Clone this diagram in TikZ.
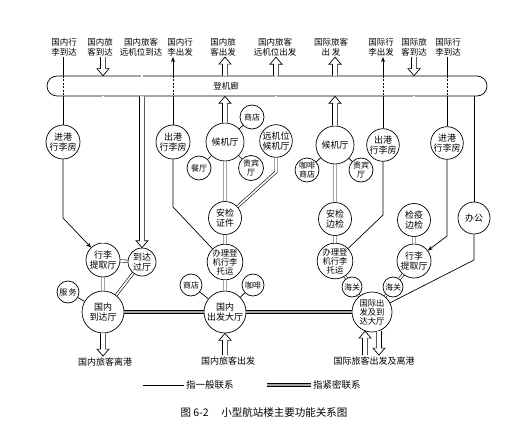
\documentclass[tikz,border=0pt]{standalone}
\usepackage{fontspec}
\setmainfont{Noto Sans CJK SC}
\usetikzlibrary{arrows.meta,calc}
\tikzset{
 bub/.style={circle,draw,line width=0.7pt,inner sep=0pt,minimum size=#1,align=center,fill=white,font=\fontsize{9}{10}\selectfont},
 sbub/.style={bub=#1,font=\fontsize{8}{9}\selectfont},
 tbub/.style={bub=#1,font=\fontsize{8.3}{9}\selectfont},
 lbl/.style={align=center,inner sep=1pt,font=\fontsize{8.5}{10}\selectfont},
 blbl/.style={inner sep=1.5pt,font=\fontsize{9}{10}\selectfont},
 gen/.style={line width=0.7pt},
 tight/.style={double,double distance=1.7pt,line width=0.6pt},
 heavy/.style={double=gray!70,double distance=2pt,line width=0.8pt},
 harrow/.style={draw,fill=white,line width=0.7pt,line join=miter},
 ar/.style={-{Stealth[length=5pt,width=4pt]}},
 dsh/.style={dash pattern=on 2pt off 1.5pt},
}
\newcommand{\harrowup}[2]{\draw[harrow] let \p1=(#1), \p2=(#2) in (\x1-2.6pt,\y1) -- (\x1-2.6pt,\y2-7pt) -- (\x1-6pt,\y2-7pt) -- (\x1,\y2) -- (\x1+6pt,\y2-7pt) -- (\x1+2.6pt,\y2-7pt) -- (\x1+2.6pt,\y1);}
\newcommand{\harrowdn}[2]{\draw[harrow] let \p1=(#1), \p2=(#2) in (\x1-2.6pt,\y1) -- (\x1-2.6pt,\y2+7pt) -- (\x1-6pt,\y2+7pt) -- (\x1,\y2) -- (\x1+6pt,\y2+7pt) -- (\x1+2.6pt,\y2+7pt) -- (\x1+2.6pt,\y1);}
\begin{document}
\begin{tikzpicture}[x=1pt,y=-1pt]
\useasboundingbox[fill=white] (0,0) rectangle (524,425);
% corridor
\node[draw,line width=0.7pt,fill=white,minimum width=440pt,minimum height=20pt,rounded corners=10pt,inner sep=0pt] (corr) at (267,86) {};
\node[font=\fontsize{8.5}{10}\selectfont] (corrl) at (226,86) {登机廊};
% top labels
\node[lbl] (t1) at (64,47) {国内行\\李到达};
\node[lbl] (t2) at (100,47) {国内旅\\客到达};
\node[lbl] (t3) at (141,47) {国内旅客\\远机位到达};
\node[lbl] (t4) at (180,47) {国内行\\李出发};
\node[lbl] (t5) at (223,47) {国内旅\\客出发};
\node[lbl] (t6) at (275,47) {国内旅客\\远机位出发};
\node[lbl] (t7) at (331,47) {国际旅客\\出\ 发};
\node[lbl] (t8) at (381,47) {国际行\\李出发};
\node[lbl] (t9) at (414,47) {国际旅\\客到达};
\node[lbl] (t10) at (448,47) {国际行\\李到达};
% circles
\node[bub=34pt] (jg1) at (63,142) {进港\\行李房};
\node[bub=34pt] (cg1) at (173,142) {出港\\行李房};
\node[bub=38pt] (hj1) at (225,142) {候机厅};
\node[sbub=24pt] (sd1) at (252,117) {商店};
\node[sbub=24pt] (ct) at (199,168) {餐厅};
\node[sbub=25pt] (gb1) at (251,168) {贵宾\\厅};
\node[bub=32pt] (yj) at (276,141) {远机位\\候机厅};
\node[bub=33pt] (aj1) at (225,218) {安检\\证件};
\node[bub=38pt] (hj2) at (335,145) {候机厅};
\node[sbub=24pt] (kf1) at (307,170) {咖啡\\商店};
\node[sbub=24pt] (gb2) at (361,170) {贵宾\\厅};
\node[bub=32pt] (cg2) at (383,145) {出港\\行李房};
\node[bub=33pt] (aj2) at (335,219) {安检\\边检};
\node[bub=33pt] (jy) at (414,220) {检疫\\边检};
\node[bub=32pt] (jg2) at (447,143) {进港\\行李房};
\node[bub=32pt] (bg) at (474,218) {办公};
\node[bub=34pt] (xl1) at (103,260) {行李\\提取厅};
\node[bub=28pt] (dg) at (142,262) {到达\\过厅};
\node[sbub=22pt] (fw) at (68,292) {服\,务};
\node[bub=42pt] (gnd) at (103,312) {国内\\到达厅};
\node[sbub=22pt] (sd2) at (191,285) {商店};
\node[tbub=35pt] (bl1) at (225,262) {办理登\\机行李\\托运};
\node[sbub=22pt] (kf2) at (253,285) {咖啡};
\node[bub=42pt] (gnc) at (225,312) {国内\\出发大厅};
\node[sbub=20pt] (hg1) at (352,287) {海关};
\node[sbub=20pt] (hg2) at (393,287) {海关};
\node[tbub=35pt] (bl2) at (335,261) {办理登\\机行李\\托运};
\node[bub=34pt] (xl2) at (414,261) {行李\\提取厅};
\node[tbub=40pt] (gj) at (372,312) {国际出\\发及到\\达大厅};
% bottom labels
\node[blbl] (b1) at (105,362) {国内旅客离港};
\node[blbl] (b2) at (228,361) {国内旅客出发};
\node[blbl] (b3) at (374,361) {国际旅客出发及离港};
% 1 domestic baggage arrival
\draw[gen] (jg1 |- t1.south) -- (jg1 |- corr.north);
\draw[gen,dsh] (jg1 |- corr.north) -- (jg1 |- corr.south);
\draw[gen] (jg1 |- corr.south) -- (jg1.north);
\coordinate (k1) at (63,218);
\draw[gen,ar] (jg1.south) -- (k1) -- (xl1);
% 2 domestic passenger arrival
\harrowdn{xl1 |- t2.south}{xl1 |- corr.north}
\draw[tight] (xl1 |- corr.south) -- (xl1.north);
% 3 remote stand arrival
\draw[tight] (dg |- t3.south) -- (dg |- corr.north);
\draw[tight,dsh] (dg |- corr.north) -- (dg |- corr.south);
\harrowdn{dg |- corr.south}{dg.north}
% 4 domestic baggage departure
\draw[gen,ar] (cg1 |- corr.north) -- (cg1 |- t4.south);
\draw[gen,dsh] (cg1 |- corr.north) -- (cg1 |- corr.south);
\draw[gen] (cg1 |- corr.south) -- (cg1.north);
\coordinate (k4) at (173,207);
\draw[gen] (cg1.south) -- (k4) -- (bl1);
% 5 domestic passenger departure
\harrowup{hj1 |- corr.north}{hj1 |- t5.south}
\harrowup{hj1.north}{hj1 |- corr.south}
\draw[tight] (hj1.south) -- ([xshift=0.02pt]aj1.north);
\draw[tight] (aj1.south) -- ([xshift=0.02pt]bl1.north);
\draw[tight] (bl1.south) -- ([xshift=0.02pt]gnc.north);
\harrowup{gnc |- b2.north}{gnc.south}
% 6 remote stand departure
\harrowup{yj |- corr.north}{yj |- t6.south}
\draw[tight,dsh] (yj |- corr.north) -- (yj |- corr.south);
\draw[tight] (yj |- corr.south) -- (yj.north);
\coordinate (k6) at (276,172);
\draw[tight] (yj.south) -- (k6) -- (aj1);
% satellites
\draw[gen] (sd1) -- (hj1);
\draw[gen] (ct) -- (hj1);
\draw[gen] (gb1) -- (hj1);
\draw[gen] (kf1) -- (hj2);
\draw[gen] (gb2) -- (hj2);
\draw[gen] (sd2) -- (gnc);
\draw[gen] (kf2) -- (gnc);
\draw[gen] (fw) -- (gnd);
% domestic arrival hall
\draw[tight] (xl1) -- (dg);
\draw[tight] (xl1.south) -- ([xshift=0.02pt]gnd.north);
\draw[tight] (dg) -- (gnd);
\harrowdn{gnd.south}{gnd |- b1.north}
\draw[heavy] (gnd) -- (gnc);
\draw[heavy] (gnc) -- (gj);
% 7 international passenger departure
\harrowup{hj2 |- corr.north}{hj2 |- t7.south}
\harrowup{hj2.north}{hj2 |- corr.south}
\draw[tight] (hj2.south) -- ([xshift=0.02pt]aj2.north);
\draw[tight] (aj2.south) -- ([xshift=0.02pt]bl2.north);
\draw[tight] (bl2) -- (hg1);
\draw[tight] (hg1) -- (gj);
\harrowup{gj.250 |- b3.north}{gj.250}
\harrowdn{gj.290}{gj.290 |- b3.north}
% 8 international baggage departure
\draw[gen,ar] (cg2 |- corr.north) -- (cg2 |- t8.south);
\draw[gen,dsh] (cg2 |- corr.north) -- (cg2 |- corr.south);
\draw[gen] (cg2 |- corr.south) -- (cg2.north);
\coordinate (k10) at (383,215);
\draw[gen] (cg2.south) -- (k10) -- (bl2);
% 9 international passenger arrival
\harrowdn{jy |- t9.south}{jy |- corr.north}
\draw[tight] (jy |- corr.south) -- (jy.north);
\draw[tight] (jy.south) -- ([xshift=0.02pt]xl2.north);
\draw[tight] (xl2) -- (hg2);
\draw[tight] (hg2) -- (gj);
% 10 international baggage arrival
\draw[gen] (jg2 |- t10.south) -- (jg2 |- corr.north);
\draw[gen,dsh] (jg2 |- corr.north) -- (jg2 |- corr.south);
\draw[gen] (jg2 |- corr.south) -- (jg2.north);
\coordinate (k12) at (447,236);
\draw[gen,ar] (jg2.south) -- (k12) -- (xl2);
% 11 office
\draw[gen] (bg |- corr.south) -- (bg.north);
\coordinate (k13) at (474,260);
\draw[gen] (bg.south) -- (k13) -- (gj);
% legend
\node[anchor=west,inner sep=2pt,font=\fontsize{9.5}{11}\selectfont] (lg1) at (184,385) {指一般联系};
\coordinate (lg1a) at (143,385);
\draw[gen] (lg1a) -- (lg1.west);
\node[anchor=west,inner sep=2pt,font=\fontsize{9.5}{11}\selectfont] (lg2) at (311,385) {指紧密联系};
\coordinate (lg2a) at (267,385);
\draw[heavy] (lg2a) -- (lg2.west);
% caption
\node[font=\fontsize{10.5}{12}\selectfont] (cap) at (264,412) {图 6-2\hspace{1.2em}小型航站楼主要功能关系图};
\end{tikzpicture}
\end{document}
